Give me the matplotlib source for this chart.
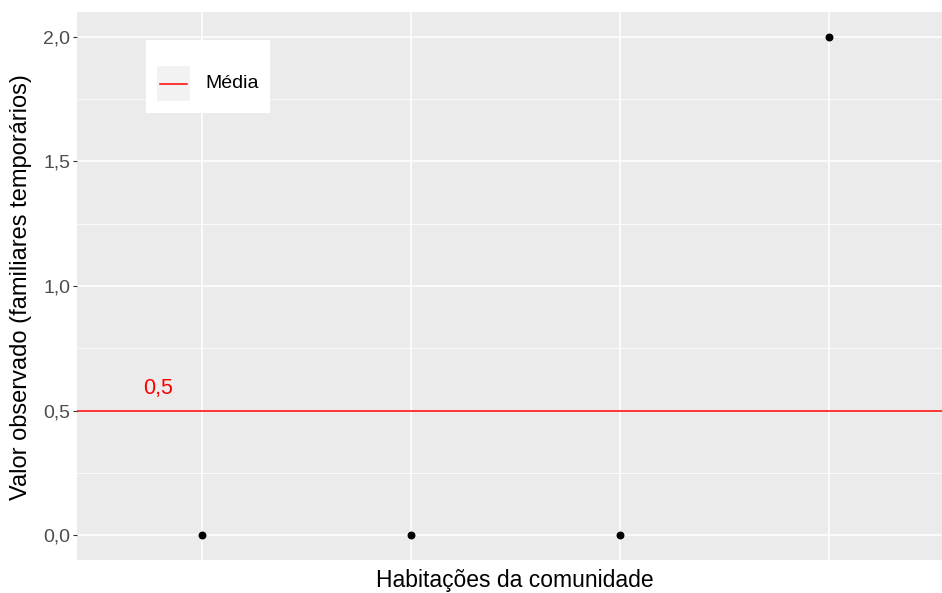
import matplotlib.pyplot as plt
from matplotlib.patches import Rectangle
import numpy as np

plt.rcParams['font.family'] = ['Liberation Sans', 'DejaVu Sans']

# data
casas = [1, 2, 3, 4]
valores = [0, 0, 0, 2]
media = np.mean(valores)
y_ticks = [0.0, 0.5, 1.0, 1.5, 2.0]
y_labels = ['0,0', '0,5', '1,0', '1,5', '2,0']

W, H = 942, 593
fig = plt.figure(figsize=(W / 100, H / 100), dpi=100)
# panel runs past the right edge like the original (cropped)
ax = fig.add_axes([77/W, 33/H, (954-77)/W, 548/H])
ax.set_facecolor('#EBEBEB')
for s in ax.spines.values():
    s.set_visible(False)

ax.set_xlim(0.4, 4.6)
ax.set_ylim(-0.1, 2.1)

# grid
ax.set_yticks(y_ticks)
ax.set_yticklabels(y_labels, color='#4D4D4D', fontsize=14)
ax.set_yticks([0.25, 0.75, 1.25, 1.75], minor=True)
ax.set_xticks(casas)
ax.set_xticklabels([])
ax.tick_params(axis='x', length=0)
ax.tick_params(axis='y', which='major', length=3, color='#333333', pad=2)
ax.tick_params(axis='y', which='minor', length=0)
ax.grid(True, which='major', color='white', linewidth=1.1)
ax.grid(True, which='minor', axis='y', color='white', linewidth=0.55)
ax.set_axisbelow(True)

# mean line and points
ax.axhline(media, color='red', linewidth=1.1)
ax.scatter(casas, valores, color='black', s=22, zorder=3)
ax.text(0.79, media + 0.09, '0,5', color='red', fontsize=15.5, ha='center', va='center')

fig.text(515/W, 1 - 580/H, 'Habitações da comunidade', fontsize=16.5,
         ha='center', va='center')
fig.text(21/W, 1 - 287/H, 'Valor observado (familiares temporários)', fontsize=17,
         ha='center', va='center', rotation=90)

# legend drawn by hand (ggplot style box with grey key)
def px(x, y):
    return x / W, 1 - y / H

fig.patches.append(Rectangle(px(146, 113), 124/W, 73/H, transform=fig.transFigure,
                             facecolor='white', edgecolor='none', zorder=5))
fig.patches.append(Rectangle(px(157, 101), 33/W, 35/H, transform=fig.transFigure,
                             facecolor='#F2F2F2', edgecolor='none', zorder=6))
fig.lines.append(plt.Line2D([160/W, 187/W], [1 - 84/H, 1 - 84/H], transform=fig.transFigure,
                            color='red', linewidth=1.1, zorder=7))
fig.text(205/W, 1 - 84/H, 'Média', fontsize=14, ha='left', va='center', zorder=8)

fig.savefig('out.png', dpi=100)
